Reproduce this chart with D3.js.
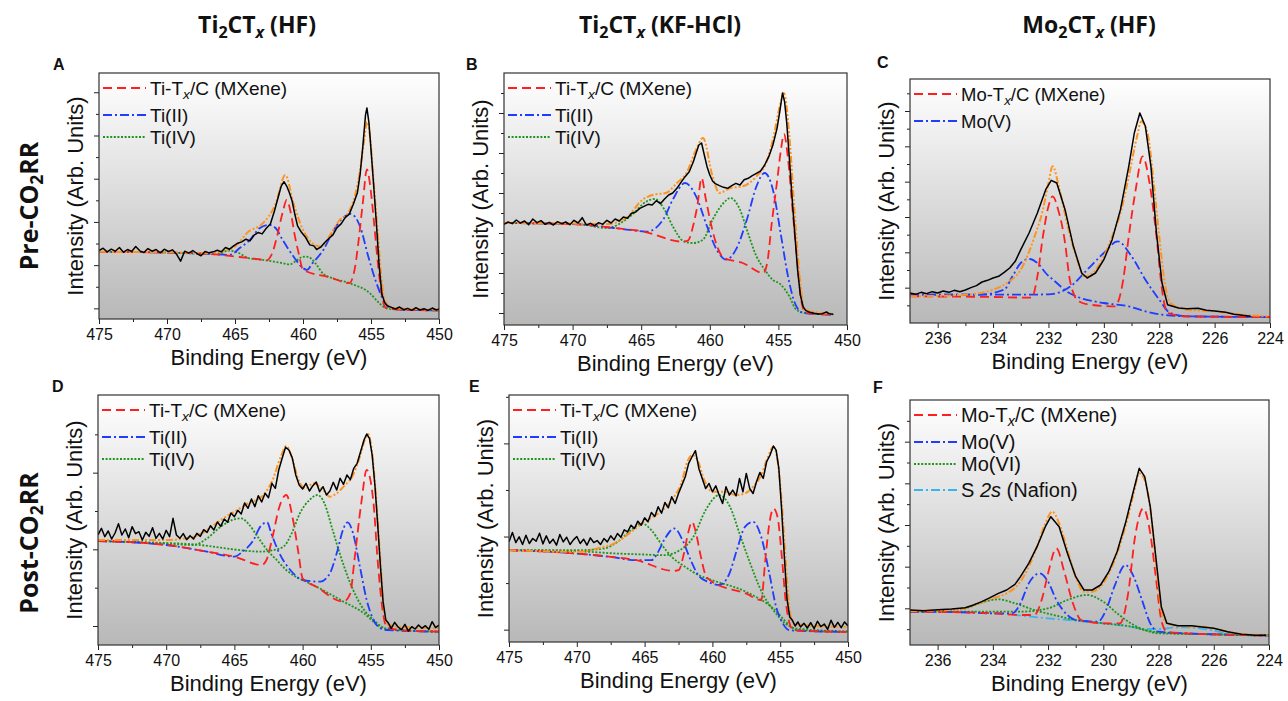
<!DOCTYPE html>
<html lang="en">
<head>
<meta charset="UTF-8">
<title>XPS Ti 2p and Mo 3d, pre and post CO2RR</title>
<style>
  body { margin: 0; background: #fff; }
  svg text { font-family: "Liberation Sans", Arial, sans-serif; fill: #111; }
  .hdr { font-family: "Open Sans", sans-serif; font-weight: 700; }
</style>
</head>
<body>
<svg id="chart" width="1288" height="701"></svg>
<script src="https://d3js.org/d3.v7.min.js"></script>
<script>
// tick labels
const tiTicks = [475, 470, 465, 460, 455, 450];
const tiMinor = [472.5, 467.5, 462.5, 457.5, 452.5];
const moTicks = [236, 234, 232, 230, 228, 226, 224];
const moMinor = [235, 233, 231, 229, 227, 225];

const tiLegend = ["Ti-T|x|/C (MXene)", "Ti(II)", "Ti(IV)"];
const moLegendPre = ["Mo-T|x|/C (MXene)", "Mo(V)"];
const moLegendPost = ["Mo-T|x|/C (MXene)", "Mo(V)", "Mo(VI)", "S |2s| (Nafion)"];

// ---- A: Ti2CTx (HF), pre
const aRed = [[475,20.2],[470,20.0],[467,19.6],[465,18.8],[463,17.8],[462.7,17.6],[462.2,20.5],[461.9,25],[461.5,32],[461.2,35.8],[460.9,32],[460.6,25],[460.3,19.5],[460,14.8],[458,12.5],[456.6,10.8],[456.2,15],[455.9,24],[455.6,35],[455.3,45],[455.0,38],[454.8,30],[454.5,17],[454.2,7],[453.9,3.3],[452.9,2.8],[450,2.6]];
const aBlue = [[475,20.2],[470,20.0],[467,19.6],[465.4,19.3],[464.6,21.5],[463.9,23.8],[463.2,27.3],[462.5,28.3],[462,27.3],[461.5,23.8],[460.7,18.8],[460,15.3],[459.7,14.8],[459.3,16.8],[458.5,20.8],[457.8,26.3],[457.1,30.3],[456.5,31.6],[455.8,27.8],[455.2,18.8],[454.6,10.8],[454.1,5.8],[453.6,3.3],[452,2.7],[450,2.6]];
const aGreen = [[475,20.2],[470,20.0],[467,19.6],[466.2,19.6],[465.5,20.6],[464.8,20.0],[464,18.3],[463,17.8],[461.5,16.8],[461,16.4],[460.5,17.5],[460.1,18.6],[459.8,18.8],[459.4,18.2],[459,16.3],[458.5,13.5],[458,12.5],[456.6,10.8],[455.1,7.8],[454.4,4.8],[453.9,3.3],[452.9,2.8],[450,2.6]];
const aFit = [[475,20.2],[470,20.1],[467,19.8],[466,20.3],[465,21.8],[464,26.3],[463,28.6],[462,34.8],[461.3,43.3],[460.7,34.8],[460,26.8],[459.3,22.8],[458.7,21.8],[458,25.3],[457.3,29.8],[456.7,31.8],[456.2,36.8],[455.8,44.8],[455.5,53.8],[455.3,59.3],[455.1,55.8],[454.8,40.8],[454.5,25.8],[454.2,10.8],[454,5.8],[453.5,3.3],[450,2.8]];
const aData = [[475,20.6],[474.7,21.3],[474.4,20.2],[474.1,21.0],[473.8,20.4],[473.5,21.5],[473.2,20.1],[472.9,20.9],[472.6,20.3],[472.3,21.8],[472.0,20.5],[471.7,20.0],[471.4,21.2],[471.1,20.4],[470.8,20.9],[470.5,19.9],[470.2,21.0],[469.9,20.3],[469.6,20.8],[469.3,19.5],[469.0,17.4],[468.7,20.4],[468.4,19.8],[468.1,20.6],[467.8,19.7],[467.5,19.0],[467.2,20.3],[466.9,19.9],[466.6,20.2],[466.3,20.7],[466.0,20.2],[465.7,21.5],[465.4,21.0],[465.1,22.0],[464.8,22.8],[464.5,23.2],[464.2,24.0],[463.9,23.5],[463.6,25.2],[463.3,26.0],[463.0,25.6],[462.7,27.3],[462.4,28.6],[462.1,32.5],[461.8,37.0],[461.6,40.0],[461.4,41.3],[461.2,40.0],[461.0,38.0],[460.8,35.5],[460.6,31.5],[460.4,28.0],[460.1,26.0],[459.8,24.5],[459.5,22.3],[459.2,22.0],[459.0,20.9],[458.7,21.6],[458.4,23.0],[458.1,24.2],[457.8,25.3],[457.5,27.5],[457.2,28.6],[456.9,30.5],[456.6,31.5],[456.3,34.5],[456.0,38.0],[455.8,43.5],[455.6,52.0],[455.4,61.5],[455.3,63.5],[455.15,59.0],[455.0,51.0],[454.8,40.0],[454.6,28.5],[454.4,16.0],[454.2,7.5],[454.0,5.0],[453.8,4.0],[453.5,3.5],[453.2,3.0],[452.9,3.6],[452.6,2.8],[452.3,3.2],[452.0,2.6],[451.7,3.4],[451.4,2.7],[451.1,3.1],[450.8,2.6],[450.5,3.3],[450.2,2.7],[450,3.0]];

// ---- B: Ti2CTx (KF-HCl), pre
const bRed = [[475,30.6],[469.5,30.2],[467,29.1],[464.9,28.1],[462,25.0],[461.6,25.3],[461.2,30],[460.9,36],[460.6,44.1],[460.3,38],[459.9,30],[459.5,24],[459.0,20.2],[457.6,18.6],[456.1,15.6],[455.8,19],[455.5,30],[455.1,43],[454.8,53],[454.6,57.3],[454.3,50],[454.0,36],[453.7,22.6],[453.3,6.6],[453.0,3.6],[451,3.1]];
const bBlue = [[475,30.6],[469.5,30.2],[467,29.1],[464.9,28.1],[464.6,28.0],[463.4,31.6],[462.7,37.6],[461.8,42.6],[461,38.6],[460.2,29.6],[459.5,22.6],[458.8,19.6],[458.1,22.6],[457.3,31.6],[456.6,41.6],[456.0,45.6],[455.4,40.6],[454.8,26.6],[454.3,14.6],[453.8,6.6],[453.2,3.6],[451,3.1]];
const bGreen = [[475,30.6],[469.5,30.2],[467.5,29.1],[465.8,32.6],[464.6,37.1],[464.0,37.8],[463.3,34.6],[462.7,29.6],[461.9,25.1],[461.2,24.6],[460.5,25.6],[459.8,31.6],[459.0,36.6],[458.5,38.1],[457.8,34.6],[457.3,28.6],[456.6,20.6],[456.0,16.6],[455.4,13.5],[454.9,12.4],[454.2,8.6],[453.7,4.6],[453,3.6],[451,3.1]];
const bFit = [[475,30.6],[469.5,30.4],[467.5,30.3],[466.1,32.1],[464.9,37.6],[464.1,39.1],[463.2,39.6],[462.4,42.6],[461.7,45.6],[461,52.6],[460.5,56.1],[459.8,44.6],[459.3,39.6],[458.5,41.1],[457.6,41.6],[456.6,44.6],[455.9,48.6],[455.4,55.6],[454.9,65.6],[454.6,69.6],[454.2,56.6],[453.8,32.6],[453.4,12.6],[453.1,4.6],[451,3.3]];
const bData = [[475,30.2],[474.7,30.9],[474.4,30.4],[474.1,31.5],[473.8,30.6],[473.5,31.2],[473.2,30.1],[472.9,31.8],[472.6,30.7],[472.3,31.3],[472.0,30.2],[471.7,30.8],[471.4,30.0],[471.1,31.0],[470.8,30.4],[470.5,30.9],[470.2,30.1],[469.9,31.4],[469.6,30.6],[469.3,32.2],[469.0,30.0],[468.7,30.5],[468.4,29.8],[468.1,30.7],[467.8,30.2],[467.5,31.4],[467.2,30.6],[466.9,31.8],[466.6,31.2],[466.3,32.4],[466.0,32.0],[465.7,33.5],[465.4,33.9],[465.1,35.0],[464.8,35.6],[464.5,36.2],[464.2,36.0],[463.9,37.3],[463.6,36.4],[463.3,37.8],[463.0,39.0],[462.7,39.6],[462.4,41.0],[462.1,42.8],[461.8,44.5],[461.5,46.0],[461.2,49.0],[461.0,51.5],[460.8,54.0],[460.6,54.6],[460.4,51.0],[460.2,47.5],[460.0,45.0],[459.8,43.2],[459.6,42.4],[459.3,41.8],[459.0,41.3],[458.7,41.0],[458.4,41.8],[458.1,42.5],[457.8,42.0],[457.5,43.6],[457.2,44.0],[456.9,44.8],[456.6,45.5],[456.3,46.2],[456.0,48.0],[455.7,50.5],[455.4,54.0],[455.1,59.0],[454.9,64.0],[454.7,69.6],[454.55,67.0],[454.4,61.0],[454.2,50.0],[454.0,38.0],[453.8,27.0],[453.6,16.5],[453.4,9.0],[453.2,5.5],[453.0,4.3],[452.7,3.8],[452.4,3.5],[452.1,3.3],[451.8,3.4],[451.5,3.9],[451.3,3.4],[451.0,3.2]];

// ---- C: Mo2CTx (HF), pre
const cRed = [[237,8.0],[234,7.8],[232.6,7.6],[232.4,14],[232.2,26],[232.0,35],[231.85,38],[231.65,34],[231.4,24],[231.25,14],[231.05,8],[230.9,6.5],[230.5,5.5],[229.6,5.0],[229.5,6],[229.3,13],[229.1,26],[228.85,40],[228.6,50],[228.35,42],[228.1,26],[227.9,10],[227.7,3],[227,2.0],[224,1.8]];
const cBlue1 = [[237,8.5],[234.5,8.5],[233.6,10],[233.3,14],[233.0,18],[232.7,19.2],[232.4,18],[232.1,15],[231.7,12],[231.35,9.5],[231.0,8],[230,6],[229.1,5],[228.5,3.5],[227.9,2.5],[227,2.0],[224,1.8]];
const cBlue2 = [[237,8.5],[233,8.5],[232,8.6],[231.6,9.2],[231.2,11],[230.6,16],[230,21],[229.5,24.5],[229,20],[228.5,13],[228,7],[227.6,3],[227,2.0],[224,1.8]];
const cFit = [[237,8.0],[235,8.5],[234,10.0],[233.5,12],[233,16],[232.5,26],[232.2,34],[232.0,42],[231.85,47],[231.6,40],[231.3,29],[231.0,20],[230.7,14],[230.4,15],[230,20],[229.7,26],[229.4,33],[229.1,44],[228.8,56],[228.65,60.5],[228.4,56],[228.2,42],[228.0,26],[227.8,12],[227.6,6],[227,4],[226,3.5],[225,2.5],[224,2]];
const cData = [[237,9.0],[236.8,8.6],[236.6,9.2],[236.4,8.8],[236.2,9.4],[236,9.0],[235.8,9.6],[235.6,9.2],[235.4,9.8],[235.2,9.4],[235,9.9],[234.8,10.6],[234.6,11.2],[234.4,12.3],[234.2,12.8],[234,13.5],[233.8,14.0],[233.6,15.2],[233.4,16.5],[233.2,18.5],[233,22],[232.7,27],[232.4,33],[232.1,40],[231.9,42.8],[231.7,42],[231.4,34],[231.1,23],[230.8,15],[230.6,13.5],[230.3,15],[230,19],[229.7,25],[229.4,34],[229.1,47],[228.9,57],[228.7,63],[228.5,59],[228.3,47],[228.1,27],[227.9,12],[227.7,5.5],[227.3,4.5],[227,4.3],[226.6,4.4],[226.3,3.8],[226,3.6],[225.6,3.2],[225.3,2.6],[225,2.3],[224.7,2.0]];

// ---- D: Ti2CTx (HF), post
const dRed = [[475,31.2],[470,30.0],[467,28.0],[465,26.5],[463,24.0],[462.65,25.5],[462.2,32.5],[461.7,41.5],[461.2,45],[460.7,37.5],[460.3,27.5],[460.0,20],[459,17.5],[457,13.0],[456.5,15.5],[456.2,25.5],[455.7,42.5],[455.3,52.5],[454.8,42.5],[454.5,25.5],[454.1,9.5],[453.85,5.5],[453,4.5],[450,4.0]];
const dBlue = [[475,31.2],[470,30.0],[467,28.0],[465,26.5],[464.4,28],[463.6,31.5],[463.1,35.5],[462.6,36.8],[462.3,33.5],[461.7,27.5],[460.9,22.5],[460.0,19.5],[458.7,19],[458,21.5],[457.5,27.5],[457.0,35],[456.7,36.8],[456.3,33.5],[455.8,23.5],[455.3,13.5],[454.8,7.5],[454.3,5],[453.85,4.5],[450,4.0]];
const dGreen1 = [[475,31.2],[470,30.4],[468,30.0],[467,32.0],[466,35.5],[465,37.7],[464.5,38],[464,36.5],[463.3,32.5],[462.6,28.5],[461.9,25.5],[461.2,22.5],[460.5,20.5],[460,19.5],[459,17.5],[457,13.0],[455.5,9.5],[454.5,6.0],[454,5.0],[450,4.0]];
const dGreen2 = [[475,31.2],[470,30.6],[468,30.2],[466,29.2],[464,28.2],[463,28.0],[462.4,28.3],[462,28.6],[461.4,29.5],[460.8,33.5],[460.2,39.5],[459.5,43.5],[458.9,45],[458.4,42.5],[457.8,34.5],[457.2,26.5],[456.6,19.5],[456,14],[455.4,10],[454.8,7.5],[454.2,5.5],[453.8,4.7],[450,4.0]];
const dFit = [[475,31.5],[470,31.5],[468,32.5],[467,34.5],[466,37.5],[465,40],[464,42.5],[463,44.5],[462.2,49.5],[461.6,56.5],[461.2,59.7],[460.8,56.5],[460.3,49.5],[459.8,47],[459.2,48.5],[458.6,47],[458,44.5],[457.5,45.5],[457,47.5],[456.3,51],[455.8,56.5],[455.4,62],[455.2,63.3],[454.9,57.5],[454.6,43.5],[454.3,25.5],[454.0,9.5],[453.7,6],[453,5.5],[450,5]];
const dData = [[475,33.0],[474.75,35.0],[474.5,32.5],[474.25,34.2],[474.0,31.8],[473.75,33.6],[473.5,36.4],[473.25,33.0],[473.0,34.8],[472.75,32.2],[472.5,35.5],[472.25,33.4],[472.0,34.0],[471.75,31.5],[471.5,33.8],[471.25,32.6],[471.0,35.2],[470.75,32.0],[470.5,33.5],[470.25,31.8],[470.0,34.4],[469.75,32.5],[469.5,38.0],[469.25,33.0],[469.0,32.0],[468.75,33.4],[468.5,31.6],[468.25,32.8],[468.0,31.8],[467.75,33.5],[467.5,32.6],[467.25,34.6],[467.0,33.8],[466.75,35.8],[466.5,34.5],[466.25,36.9],[466.0,35.6],[465.75,37.8],[465.5,36.8],[465.25,39.6],[465.0,38.5],[464.75,40.4],[464.5,39.3],[464.25,42.6],[464.0,41.0],[463.75,43.8],[463.5,41.5],[463.25,44.8],[463.0,42.9],[462.75,45.5],[462.5,44.2],[462.25,48.5],[462.0,47.0],[461.75,52.5],[461.5,56.0],[461.25,59.3],[461.0,58.5],[460.75,56.0],[460.5,51.0],[460.25,48.0],[460.0,46.8],[459.75,48.5],[459.5,46.2],[459.25,47.8],[459.0,48.9],[458.75,46.0],[458.5,47.5],[458.25,45.0],[458.0,46.2],[457.75,48.8],[457.5,46.5],[457.25,50.0],[457.0,48.2],[456.75,51.0],[456.5,49.6],[456.25,53.0],[456.0,54.5],[455.75,58.0],[455.5,61.5],[455.3,63.3],[455.1,62.0],[454.9,57.0],[454.7,48.0],[454.5,36.5],[454.3,24.0],[454.1,13.0],[453.9,7.5],[453.7,6.5],[453.5,5.0],[453.25,6.8],[453.0,5.4],[452.75,4.6],[452.5,6.2],[452.25,4.2],[452.0,5.5],[451.75,4.8],[451.5,6.0],[451.25,5.0],[451.0,5.8],[450.75,4.7],[450.5,7.0],[450.25,5.2],[450.0,6.0]];

// ---- E: Ti2CTx (KF-HCl), post
const eRed = [[475,27.5],[470,26.5],[467.5,25.5],[465.6,24.5],[462.9,21.3],[462.5,21.5],[462.1,26.5],[461.8,32.5],[461.5,36],[461.2,32.5],[460.9,26.5],[460.5,20],[460.2,18.6],[460,18.0],[457.5,14.5],[456.4,12.5],[456.1,24.5],[455.8,35.5],[455.5,40],[455.2,37.5],[454.9,26.5],[454.6,12.5],[454.3,5.5],[454,3.5],[450,3.0]];
const eBlue = [[475,27.5],[470,26.5],[467.5,25.5],[465.6,24.5],[464.5,24.5],[464,27],[463.5,31],[462.8,34],[462.2,30.5],[461.6,24.5],[461,19.8],[460.3,18.0],[459.5,17.1],[458.8,20],[458.2,27.5],[457.6,34.5],[457.0,36],[456.4,31.5],[455.8,20.5],[455.3,10.5],[454.8,5.5],[454.3,3.5],[450,3.0]];
const eGreen1 = [[475,27.5],[470,27.5],[468,28],[467,30],[466,33.5],[465.2,35.5],[464.5,33.5],[463.8,29.5],[463,25.5],[462,22.5],[461,20],[460,18.5],[457.5,15],[455.5,10],[454.3,5],[453.8,3.6],[450,3.0]];
const eGreen2 = [[475,27.5],[470,27.2],[467,26.5],[465,26.2],[463.6,26],[462.4,27.5],[461.4,31.5],[460.5,39.5],[459.5,44],[458.7,40.5],[458,32.5],[457.3,24.5],[456.3,14.5],[455.5,9.5],[454.6,5.5],[453.8,4],[450,3.2]];
const eFit = [[475,27.5],[470,27],[468.5,28],[467,30],[466,33],[465,36],[464,38.5],[463,42.5],[462.3,47.5],[461.8,54.5],[461.5,56],[461.1,54.5],[460.6,48.5],[460,45],[459,45],[458.3,44],[457.6,44.5],[457,46.5],[456.4,50],[455.9,55.5],[455.5,58.5],[455.2,54.5],[454.9,42.5],[454.6,24.5],[454.3,9.5],[454,5.5],[453,5],[450,4.5]];
const eData = [[475,30.0],[474.75,32.8],[474.5,29.8],[474.25,31.5],[474.0,29.2],[473.75,32.0],[473.5,29.5],[473.25,31.0],[473.0,30.2],[472.75,32.6],[472.5,29.4],[472.25,31.8],[472.0,29.6],[471.75,30.8],[471.5,29.0],[471.25,32.2],[471.0,30.0],[470.75,31.4],[470.5,29.2],[470.25,30.6],[470.0,31.6],[469.75,29.5],[469.5,30.8],[469.25,29.0],[469.0,31.2],[468.75,29.8],[468.5,30.4],[468.25,29.2],[468.0,31.0],[467.75,30.0],[467.5,31.8],[467.25,30.6],[467.0,32.5],[466.75,31.4],[466.5,33.6],[466.25,33.0],[466.0,35.0],[465.75,34.0],[465.5,36.2],[465.25,35.0],[465.0,37.2],[464.75,36.0],[464.5,38.8],[464.25,37.6],[464.0,40.5],[463.75,38.6],[463.5,41.8],[463.25,40.2],[463.0,43.5],[462.75,41.5],[462.5,44.5],[462.25,47.0],[462.0,49.5],[461.75,53.5],[461.5,55.5],[461.25,57.3],[461.0,52.0],[460.75,49.0],[460.5,46.0],[460.25,47.5],[460.0,45.0],[459.75,46.8],[459.5,44.0],[459.25,41.5],[459.0,46.5],[458.75,44.0],[458.5,45.5],[458.25,43.8],[458.0,49.0],[457.75,45.0],[457.5,50.5],[457.25,46.0],[457.0,44.5],[456.75,48.0],[456.5,50.8],[456.25,49.0],[456.0,54.0],[455.75,56.0],[455.5,58.7],[455.3,57.5],[455.1,52.0],[454.9,40.0],[454.7,26.0],[454.5,13.0],[454.3,7.5],[454.1,6.5],[453.9,4.8],[453.7,6.0],[453.5,4.5],[453.25,5.6],[453.0,4.2],[452.75,5.8],[452.5,4.0],[452.25,6.2],[452.0,4.6],[451.75,5.4],[451.5,3.8],[451.25,6.5],[451.0,4.4],[450.75,5.9],[450.5,4.3],[450.25,6.0],[450.0,4.8]];

// ---- F: Mo2CTx (HF), post
const fRed = [[237,10],[235,9.8],[234,9.5],[233,9.0],[232.5,9.0],[232.2,14.5],[232,21.5],[231.7,29],[231.4,21.5],[231.1,12.5],[230.8,7.5],[230,6.5],[229.4,6.5],[229.1,15.5],[228.85,32.5],[228.55,41],[228.3,33.5],[228.1,20.5],[227.9,7.5],[227.7,4.0],[227,3.5],[226,3.2],[225,3.0],[224,2.8]];
const fBlue = [[237,10],[235,9.8],[234,9.5],[233.3,9.5],[233,12.5],[232.7,18.5],[232.3,21.5],[232,19],[231.7,13.5],[231.3,9],[231,7.5],[230.2,7],[229.9,10.5],[229.6,17.5],[229.2,24],[228.9,20.5],[228.6,13.5],[228.3,6.5],[228,4],[227,3.5],[226,3.2],[225,3.0],[224,2.8]];
const fGreen1 = [[237,10],[236,10.2],[235,11],[234.5,12.5],[233.8,13.7],[233.2,12.5],[232.5,10.5],[231.8,9],[231,7.5],[230,6.5],[229,5.5],[228.5,4.5],[228,3.8],[226,3.2],[224,2.8]];
const fGreen2 = [[237,10],[235,10],[233,10],[232,11],[231.3,13.5],[230.6,15],[230,13],[229.5,9.5],[229,6.5],[228.5,4.5],[228,3.5],[226,3.2],[224,3.0]];
const fCyan = [[237,10],[234,9.5],[232,8.0],[230,6.5],[229,5.5],[228.5,4.8],[228,4.8],[227.5,5.2],[227,5.3],[226.5,5.0],[226,4.3],[225.5,3.5],[225,3.0],[224,2.8]];
const fFit = [[237,10.2],[235.5,10.5],[235,11],[234.5,12.5],[234,14],[233.5,15.5],[233,19],[232.7,23.5],[232.4,29.5],[232.1,36.5],[231.85,40],[231.6,36.5],[231.3,28.5],[231,20.5],[230.7,16],[230.4,16],[230.1,17.5],[229.8,21.5],[229.5,27.5],[229.2,35.5],[228.9,45.5],[228.7,51.5],[228.5,49.5],[228.3,41],[228.1,25.5],[227.9,10.5],[227.7,6.5],[227.3,5.7],[226.5,5.5],[226,5],[225.5,4],[225,3.3],[224,2.9]];
const fData = [[237,10.5],[236.5,10.3],[236,10.6],[235.5,10.8],[235,11.2],[234.7,12.0],[234.4,13.0],[234.1,14.2],[233.8,15.5],[233.5,16.5],[233.2,18.2],[233,20.5],[232.7,24.5],[232.4,29.5],[232.1,35.5],[231.9,38.5],[231.6,35.5],[231.3,27.5],[231,20.5],[230.7,16.5],[230.4,16.5],[230.1,18],[229.8,22],[229.5,28],[229.2,36.5],[228.9,46.5],[228.7,53],[228.5,50.5],[228.3,41.5],[228.1,26.5],[227.9,11.5],[227.7,6.5],[227.3,5.8],[226.8,5.8],[226.5,5.5],[226,5],[225.5,4],[225,3.2],[224.5,2.9],[224.1,2.9]];

// line styles
const styles = {
  red:   { color: "#ff1f1f", dash: "9,5", w: 1.8 },
  blue:  { color: "#1f3cff", dash: "9,3,2,3", w: 1.8 },
  green: { color: "#1c961c", dash: "2,1.6", w: 1.8 },
  cyan:  { color: "#38b4f0", dash: "9,3,2,3", w: 1.8 },
  fit:   { color: "#ff9320", dash: "7,2,2,2,2,2", w: 2 },
  data:  { color: "#000000", dash: null, w: 1.5 }
};

const panels = [
  { id: "A", frame: [99, 73, 439, 319], x: [475, 450], ticks: tiTicks, minor: tiMinor, yMax: 74, y0: 3.2, yStep: 13, letter: [53, 70],
    legend: tiLegend, kinds: ["red", "blue", "green"], fs: 19,
    series: [["green", aGreen], ["blue", aBlue], ["red", aRed], ["fit", aFit], ["data", aData]] },
  { id: "B", frame: [504, 73, 847, 325], x: [475, 450], ticks: tiTicks, minor: tiMinor, yMax: 75.6, y0: 3.6, yStep: 12, letter: [466, 70],
    legend: tiLegend, kinds: ["red", "blue", "green"], fs: 19,
    series: [["green", bGreen], ["blue", bBlue], ["red", bRed], ["fit", bFit], ["data", bData]] },
  { id: "C", frame: [910, 79, 1270, 323], x: [237, 224], ticks: moTicks, minor: moMinor, yMax: 73.2, y0: 10.6, yStep: 10.6, letter: [877, 68],
    legend: moLegendPre, kinds: ["red", "blue"], fs: 18.5,
    series: [["blue", cBlue1], ["blue", cBlue2], ["red", cRed], ["fit", cFit], ["data", cData]] },
  { id: "D", frame: [98, 395, 439, 645], x: [475, 450], ticks: tiTicks, minor: tiMinor, yMax: 75, y0: 5.7, yStep: 23, letter: [52, 392],
    legend: tiLegend, kinds: ["red", "blue", "green"], fs: 19,
    series: [["green", dGreen1], ["green", dGreen2], ["blue", dBlue], ["red", dRed], ["fit", dFit], ["data", dData]] },
  { id: "E", frame: [509, 395, 848, 642], x: [475, 450], ticks: tiTicks, minor: tiMinor, yMax: 74, y0: 3.7, yStep: 27.9, letter: [469, 392],
    legend: tiLegend, kinds: ["red", "blue", "green"], fs: 19,
    series: [["green", eGreen1], ["green", eGreen2], ["blue", eBlue], ["red", eRed], ["fit", eFit], ["data", eData]] },
  { id: "F", frame: [910, 400, 1269, 645], x: [237, 224], ticks: moTicks, minor: moMinor, yMax: 73.5, y0: 11, yStep: 12.5, letter: [873, 393],
    legend: moLegendPost, kinds: ["red", "blue", "green", "cyan"], fs: 20,
    series: [["cyan", fCyan], ["green", fGreen1], ["green", fGreen2], ["blue", fBlue], ["red", fRed], ["fit", fFit], ["data", fData]] }
];

const svg = d3.select("#chart");
const defs = svg.append("defs");
const grad = defs.append("linearGradient").attr("id", "bg")
  .attr("x1", 0).attr("y1", 0).attr("x2", 0).attr("y2", 1);
grad.append("stop").attr("offset", "0%").attr("stop-color", "#ffffff");
grad.append("stop").attr("offset", "100%").attr("stop-color", "#b8b8b8");

// writes "a|b|c" as text with the middle part as italic subscript or italic
function richText(sel, str, italicOnly) {
  const parts = str.split("|");
  sel.append("tspan").text(parts[0]);
  if (parts.length > 1) {
    if (italicOnly) {
      sel.append("tspan").attr("font-style", "italic").text(parts[1]);
      sel.append("tspan").text(parts[2]);
    } else {
      sel.append("tspan").attr("font-style", "italic").attr("font-size", "0.72em").attr("dy", "0.3em").text(parts[1]);
      sel.append("tspan").attr("dy", "-0.22em").text(parts[2]);
    }
  }
}

panels.forEach(p => {
  const [x0, y0, x1, y1] = p.frame;
  const x = d3.scaleLinear().domain(p.x).range([x0, x1]);
  const y = d3.scaleLinear().domain([0, p.yMax]).range([y1, y0]);
  const g = svg.append("g");

  g.append("rect").attr("x", x0).attr("y", y0).attr("width", x1 - x0).attr("height", y1 - y0)
    .attr("fill", "url(#bg)");

  defs.append("clipPath").attr("id", "clip" + p.id)
    .append("rect").attr("x", x0).attr("y", y0).attr("width", x1 - x0).attr("height", y1 - y0);

  // curves
  const plot = g.append("g").attr("clip-path", `url(#clip${p.id})`);
  p.series.forEach(([kind, pts]) => {
    const st = styles[kind];
    const line = d3.line().x(d => x(d[0])).y(d => y(d[1]))
      .curve(kind === "data" ? d3.curveLinear : d3.curveMonotoneX);
    plot.append("path").datum(pts).attr("d", line)
      .attr("fill", "none").attr("stroke", st.color).attr("stroke-width", st.w)
      .attr("stroke-dasharray", st.dash).attr("stroke-linejoin", "round");
  });

  // axes
  const xAxis = g.append("g").attr("transform", `translate(0,${y1})`)
    .call(d3.axisBottom(x).tickValues(p.ticks).tickSize(5).tickPadding(5).tickSizeOuter(0));
  xAxis.selectAll("text").attr("font-size", 16).attr("fill", "#111")
    .style("font-family", '"Liberation Sans", Arial, sans-serif');
  g.append("g").attr("transform", `translate(0,${y1})`)
    .call(d3.axisBottom(x).tickValues(p.minor).tickSize(3).tickFormat("").tickSizeOuter(0));

  const majors = d3.range(p.y0, p.yMax - 0.5, p.yStep);
  const minors = d3.range(p.y0 - p.yStep / 2, p.yMax - 0.5, p.yStep).filter(v => v > 0.5);
  g.append("g").attr("transform", `translate(${x0},0)`)
    .call(d3.axisLeft(y).tickValues(majors).tickSize(5).tickFormat("").tickSizeOuter(0));
  g.append("g").attr("transform", `translate(${x0},0)`)
    .call(d3.axisLeft(y).tickValues(minors).tickSize(3).tickFormat("").tickSizeOuter(0));
  g.selectAll(".domain").remove();
  g.selectAll(".tick line").attr("stroke", "#222");

  g.append("rect").attr("x", x0).attr("y", y0).attr("width", x1 - x0).attr("height", y1 - y0)
    .attr("fill", "none").attr("stroke", "#333").attr("stroke-width", 1.2);

  // axis titles
  g.append("text").attr("x", (x0 + x1) / 2).attr("y", y1 + 46).attr("text-anchor", "middle")
    .attr("font-size", 22).text("Binding Energy (eV)");
  g.append("text").attr("transform", `translate(${x0 - 16},${(y0 + y1) / 2}) rotate(-90)`)
    .attr("text-anchor", "middle").attr("font-size", 22).text("Intensity (Arb. Units)");

  // panel letter
  g.append("text").attr("x", p.letter[0]).attr("y", p.letter[1])
    .attr("font-size", 16).attr("font-weight", 700).text(p.id);

  // legend
  const rows = [15, 42, 64, 90];
  p.legend.forEach((lab, i) => {
    const st = styles[p.kinds[i]];
    const ly = y0 + rows[i];
    g.append("line").attr("x1", x0 + 4).attr("x2", x0 + 47).attr("y1", ly).attr("y2", ly)
      .attr("stroke", st.color).attr("stroke-width", st.w).attr("stroke-dasharray", st.dash);
    const t = g.append("text").attr("x", x0 + 51).attr("y", ly + 7).attr("font-size", p.fs);
    richText(t, lab, lab.startsWith("S "));
  });
});

// column headers
const headers = [["Ti", "2", "CT", "x", " (HF)"], ["Ti", "2", "CT", "x", " (KF-HCl)"], ["Mo", "2", "CT", "x", " (HF)"]];
const headerX = [257, 660, 1089];
headers.forEach((h, i) => {
  const t = svg.append("text").attr("class", "hdr").attr("x", headerX[i]).attr("y", 33)
    .attr("text-anchor", "middle").attr("font-size", 23);
  t.append("tspan").text(h[0]);
  t.append("tspan").attr("font-size", "0.7em").attr("dy", "0.3em").text(h[1]);
  t.append("tspan").attr("dy", "-0.21em").text(h[2]);
  t.append("tspan").attr("font-size", "0.7em").attr("font-style", "italic").attr("dy", "0.3em").text(h[3]);
  t.append("tspan").attr("dy", "-0.21em").text(h[4]);
});

// row labels
const rowLabels = [["Pre-CO", "2", "RR"], ["Post-CO", "2", "RR"]];
const rowY = [206, 543];
rowLabels.forEach((r, i) => {
  const t = svg.append("text").attr("class", "hdr")
    .attr("transform", `translate(38,${rowY[i]}) rotate(-90)`)
    .attr("text-anchor", "middle").attr("font-size", 25);
  t.append("tspan").text(r[0]);
  t.append("tspan").attr("font-size", "0.7em").attr("dy", "0.3em").text(r[1]);
  t.append("tspan").attr("dy", "-0.21em").text(r[2]);
});
</script>
</body>
</html>
